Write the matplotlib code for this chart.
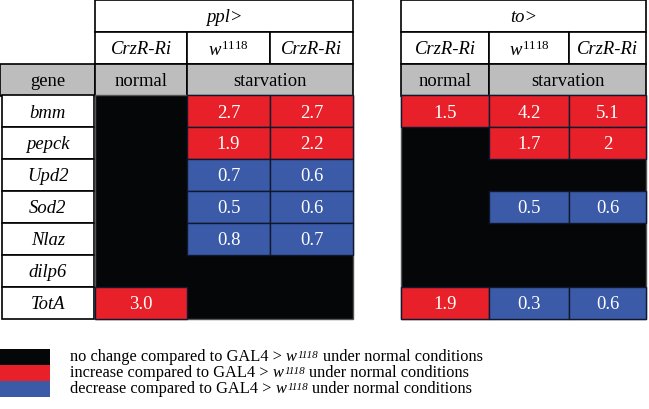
import matplotlib.pyplot as plt
from matplotlib.patches import Rectangle

plt.rcParams['font.family'] = 'Liberation Serif'
plt.rcParams['mathtext.fontset'] = 'custom'
plt.rcParams['mathtext.rm'] = 'Liberation Serif'
plt.rcParams['mathtext.it'] = 'Liberation Serif:italic'

# data
genes = ['bmm', 'pepck', 'Upd2', 'Sod2', 'Nlaz', 'dilp6', 'TotA']
drivers = ['ppl>', 'to>']
genotypes = ['CrzR-Ri', r'$\mathit{w}^{\mathit{1118}}$', 'CrzR-Ri']
conditions = ['normal', 'starvation']
# fold change, None = no change
ppl_vals = [[None, '2.7', '2.7'],
            [None, '1.9', '2.2'],
            [None, '0.7', '0.6'],
            [None, '0.5', '0.6'],
            [None, '0.8', '0.7'],
            [None, None, None],
            ['3.0', None, None]]
to_vals = [['1.5', '4.2', '5.1'],
           [None, '1.7', '2'],
           [None, None, None],
           [None, '0.5', '0.6'],
           [None, None, None],
           [None, None, None],
           ['1.9', '0.3', '0.6']]
legend_labels = ['no change', 'increase', 'decrease']

RED = '#e8202a'
BLUE = '#3b5aa8'
BLACK = '#050608'
GRAY = '#bdbdbd'
FS = 13.4

fig = plt.figure(figsize=(6.49, 4.10), dpi=100)
ax = fig.add_axes([0, 0, 1, 1])
ax.set_xlim(0, 649)
ax.set_ylim(410, 0)
ax.axis('off')

row_h = 32


def cell(x0, x1, y0, fc, ec='black', lw=1.2, text=None, style='normal', color='black'):
    ax.add_patch(Rectangle((x0, y0), x1 - x0, row_h, facecolor=fc, edgecolor=ec, lw=lw))
    if text is not None:
        ax.text((x0 + x1) / 2, y0 + row_h / 2 + 1, text, ha='center', va='center',
                fontsize=FS, style=style, color=color)


def panel(xs, vals, driver):
    # header rows
    cell(xs[0], xs[3], 1, 'white', text=driver, style='italic')
    for i in range(3):
        cell(xs[i], xs[i + 1], 1 + row_h, 'white', text=genotypes[i], style='italic')
    cell(xs[0], xs[1], 1 + 2 * row_h, GRAY, text=conditions[0])
    cell(xs[1], xs[3], 1 + 2 * row_h, GRAY, text=conditions[1])
    # body
    y_top = 96
    ax.add_patch(Rectangle((xs[0], y_top), xs[3] - xs[0], len(genes) * row_h,
                           facecolor=BLACK, edgecolor='#555555', lw=1))
    for r, row in enumerate(vals):
        for c, v in enumerate(row):
            if v is None:
                continue
            fc = RED if float(v) > 1 else BLUE
            cell(xs[c], xs[c + 1], y_top + r * row_h, fc, ec='#101830', lw=1,
                 text=v, color='white')


left_x = [95, 187, 270, 353]
right_x = [401, 489, 569, 646]

# gene column
cell(0, 95, 65, GRAY, text='gene')
for r, g in enumerate(genes):
    cell(2, 94, 96 + r * row_h, 'white', text=g, style='italic')

panel(left_x, ppl_vals, drivers[0])
panel(right_x, to_vals, drivers[1])

# legend - pieces chained so the superscript stays inside the line
LFS = 11.8
for i, (lab, col) in enumerate(zip(legend_labels, [BLACK, RED, BLUE])):
    y0 = 350 + i * 16
    ax.add_patch(Rectangle((0, y0), 50, 16, facecolor=col, edgecolor='none'))
    t1 = ax.text(70, y0 + 15.5, f'{lab} compared to GAL4 >', ha='left', va='bottom',
                 fontsize=LFS)
    t2 = ax.annotate('w', xy=(1, 0), xycoords=t1, xytext=(3, 0), textcoords='offset points',
                     ha='left', va='bottom', fontsize=LFS, style='italic')
    t3 = ax.annotate('1118', xy=(1, 0.36), xycoords=t2, xytext=(0.5, 0),
                     textcoords='offset points', ha='left', va='bottom', fontsize=8,
                     style='italic')
    ax.annotate('under normal conditions', xy=(1, 0), xycoords=(t3, t2), xytext=(3, 0),
                textcoords='offset points', ha='left', va='bottom', fontsize=LFS)

fig.savefig('out.png', dpi=100)
